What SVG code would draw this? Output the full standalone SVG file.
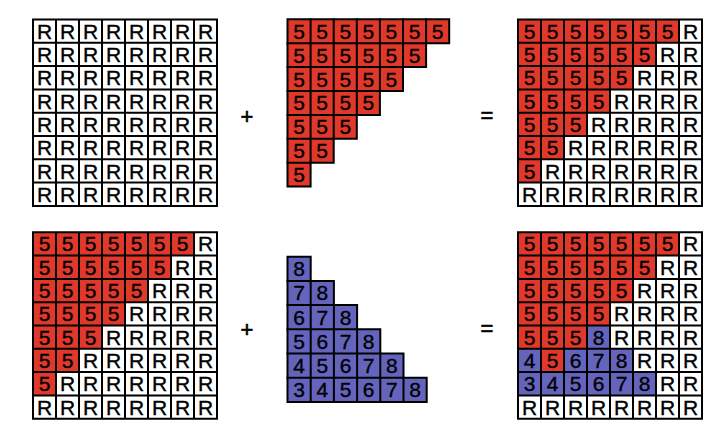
<svg xmlns="http://www.w3.org/2000/svg" xmlns:xlink="http://www.w3.org/1999/xlink" width="728" height="440" viewBox="0 0 728 440">
<style>
  text { font-family: "Liberation Sans", Arial, sans-serif; font-size: 21px; fill: #000; stroke: #000; stroke-width: 0.35; text-anchor: middle; }
  .bg { fill: #fff; }
  .red { fill: #e0382a; }
  .blue { fill: #6464bd; }
  .lines { fill: none; stroke: #000; stroke-width: 2; stroke-linecap: square; }
  .op { font-size: 22px; stroke-width: 0.6; }
</style>
<defs>
  <path id="g8" d="M0 0V186.4M23 0V186.4M46 0V186.4M69 0V186.4M92 0V186.4M115 0V186.4M138 0V186.4M161 0V186.4M184 0V186.4M0 0H184M0 23.3H184M0 46.6H184M0 69.9H184M0 93.2H184M0 116.5H184M0 139.8H184M0 163.1H184M0 186.4H184"/>
  <polygon id="stair" points="0,0 161,0 161,23.3 138,23.3 138,46.6 115,46.6 115,69.9 92,69.9 92,93.2 69,93.2 69,116.5 46,116.5 46,139.8 23,139.8 23,163.1 0,163.1"/>
</defs>

<!-- Top-left: all R -->
<g id="grid-top-left" transform="translate(33,19.5)">
  <rect class="bg" x="0" y="0" width="184" height="186.4"/>
  <use xlink:href="#g8" class="lines"/>
  <text x="11.5 34.5 57.5 80.5 103.5 126.5 149.5 172.5" y="19.2">RRRRRRRR</text>
  <text x="11.5 34.5 57.5 80.5 103.5 126.5 149.5 172.5" y="42.5">RRRRRRRR</text>
  <text x="11.5 34.5 57.5 80.5 103.5 126.5 149.5 172.5" y="65.8">RRRRRRRR</text>
  <text x="11.5 34.5 57.5 80.5 103.5 126.5 149.5 172.5" y="89.1">RRRRRRRR</text>
  <text x="11.5 34.5 57.5 80.5 103.5 126.5 149.5 172.5" y="112.4">RRRRRRRR</text>
  <text x="11.5 34.5 57.5 80.5 103.5 126.5 149.5 172.5" y="135.7">RRRRRRRR</text>
  <text x="11.5 34.5 57.5 80.5 103.5 126.5 149.5 172.5" y="159">RRRRRRRR</text>
  <text x="11.5 34.5 57.5 80.5 103.5 126.5 149.5 172.5" y="182.3">RRRRRRRR</text>
</g>

<text id="plus-top" class="op" x="247" y="123.5">+</text>

<!-- Top-middle: red triangle of 5s -->
<g id="triangle-red" transform="translate(287.5,19.3)">
  <polygon class="red" points="0,0 161.7,0 161.7,23.9 138.6,23.9 138.6,47.8 115.5,47.8 115.5,71.7 92.4,71.7 92.4,95.6 69.3,95.6 69.3,119.5 46.2,119.5 46.2,143.4 23.1,143.4 23.1,167.3 0,167.3"/>
  <polygon class="lines" points="0,0 161.7,0 161.7,23.9 138.6,23.9 138.6,47.8 115.5,47.8 115.5,71.7 92.4,71.7 92.4,95.6 69.3,95.6 69.3,119.5 46.2,119.5 46.2,143.4 23.1,143.4 23.1,167.3 0,167.3"/>
  <path class="lines" d="M0 23.9H138.6M0 47.8H115.5M0 71.7H92.4M0 95.6H69.3M0 119.5H46.2M0 143.4H23.1M23.1 0V143.4M46.2 0V119.5M69.3 0V95.6M92.4 0V71.7M115.5 0V47.8M138.6 0V23.9"/>
  <text x="11.55 34.65 57.75 80.85 103.95 127.05 150.15" y="19.5">5555555</text>
  <text x="11.55 34.65 57.75 80.85 103.95 127.05" y="43.4">555555</text>
  <text x="11.55 34.65 57.75 80.85 103.95" y="67.3">55555</text>
  <text x="11.55 34.65 57.75 80.85" y="91.2">5555</text>
  <text x="11.55 34.65 57.75" y="115.1">555</text>
  <text x="11.55 34.65" y="139">55</text>
  <text x="11.55" y="162.9">5</text>
</g>

<text id="equals-top" class="op" x="487" y="122.5">=</text>

<!-- Top-right: result -->
<g id="grid-top-right" transform="translate(518,19.5)">
  <rect class="bg" x="0" y="0" width="184" height="186.4"/>
  <use xlink:href="#stair" class="red"/>
  <use xlink:href="#g8" class="lines"/>
  <text x="11.5 34.5 57.5 80.5 103.5 126.5 149.5 172.5" y="19.2">5555555R</text>
  <text x="11.5 34.5 57.5 80.5 103.5 126.5 149.5 172.5" y="42.5">555555RR</text>
  <text x="11.5 34.5 57.5 80.5 103.5 126.5 149.5 172.5" y="65.8">55555RRR</text>
  <text x="11.5 34.5 57.5 80.5 103.5 126.5 149.5 172.5" y="89.1">5555RRRR</text>
  <text x="11.5 34.5 57.5 80.5 103.5 126.5 149.5 172.5" y="112.4">555RRRRR</text>
  <text x="11.5 34.5 57.5 80.5 103.5 126.5 149.5 172.5" y="135.7">55RRRRRR</text>
  <text x="11.5 34.5 57.5 80.5 103.5 126.5 149.5 172.5" y="159">5RRRRRRR</text>
  <text x="11.5 34.5 57.5 80.5 103.5 126.5 149.5 172.5" y="182.3">RRRRRRRR</text>
</g>

<!-- Bottom-left -->
<g id="grid-bottom-left" transform="translate(33,232.3)">
  <rect class="bg" x="0" y="0" width="184" height="186.4"/>
  <use xlink:href="#stair" class="red"/>
  <use xlink:href="#g8" class="lines"/>
  <text x="11.5 34.5 57.5 80.5 103.5 126.5 149.5 172.5" y="19.2">5555555R</text>
  <text x="11.5 34.5 57.5 80.5 103.5 126.5 149.5 172.5" y="42.5">555555RR</text>
  <text x="11.5 34.5 57.5 80.5 103.5 126.5 149.5 172.5" y="65.8">55555RRR</text>
  <text x="11.5 34.5 57.5 80.5 103.5 126.5 149.5 172.5" y="89.1">5555RRRR</text>
  <text x="11.5 34.5 57.5 80.5 103.5 126.5 149.5 172.5" y="112.4">555RRRRR</text>
  <text x="11.5 34.5 57.5 80.5 103.5 126.5 149.5 172.5" y="135.7">55RRRRRR</text>
  <text x="11.5 34.5 57.5 80.5 103.5 126.5 149.5 172.5" y="159">5RRRRRRR</text>
  <text x="11.5 34.5 57.5 80.5 103.5 126.5 149.5 172.5" y="182.3">RRRRRRRR</text>
</g>

<text id="plus-bottom" class="op" x="247" y="336.5">+</text>

<!-- Bottom-middle: blue triangle -->
<g id="triangle-blue" transform="translate(287.5,256.7)">
  <polygon class="blue" points="0,0 23.2,0 23.2,24.2 46.4,24.2 46.4,48.4 69.6,48.4 69.6,72.6 92.8,72.6 92.8,96.8 116,96.8 116,121 139.2,121 139.2,145.2 0,145.2"/>
  <polygon class="lines" points="0,0 23.2,0 23.2,24.2 46.4,24.2 46.4,48.4 69.6,48.4 69.6,72.6 92.8,72.6 92.8,96.8 116,96.8 116,121 139.2,121 139.2,145.2 0,145.2"/>
  <path class="lines" d="M0 24.2H23.2M0 48.4H46.4M0 72.6H69.6M0 96.8H92.8M0 121H116M23.2 24.2V145.2M46.4 48.4V145.2M69.6 72.6V145.2M92.8 96.8V145.2M116 121V145.2"/>
  <text x="11.6" y="19.6">8</text>
  <text x="11.6 34.8" y="43.8">78</text>
  <text x="11.6 34.8 58" y="68">678</text>
  <text x="11.6 34.8 58 81.2" y="92.2">5678</text>
  <text x="11.6 34.8 58 81.2 104.4" y="116.4">45678</text>
  <text x="11.6 34.8 58 81.2 104.4 127.6" y="140.6">345678</text>
</g>

<text id="equals-bottom" class="op" x="487" y="335.5">=</text>

<!-- Bottom-right: result -->
<g id="grid-bottom-right" transform="translate(518,232.3)">
  <rect class="bg" x="0" y="0" width="184" height="186.4"/>
  <use xlink:href="#stair" class="red"/>
  <rect class="blue" x="69" y="93.2" width="23" height="23.3"/>
  <rect class="blue" x="0" y="116.5" width="23" height="23.3"/>
  <rect class="blue" x="46" y="116.5" width="69" height="23.3"/>
  <rect class="blue" x="0" y="139.8" width="138" height="23.3"/>
  <use xlink:href="#g8" class="lines"/>
  <text x="11.5 34.5 57.5 80.5 103.5 126.5 149.5 172.5" y="19.2">5555555R</text>
  <text x="11.5 34.5 57.5 80.5 103.5 126.5 149.5 172.5" y="42.5">555555RR</text>
  <text x="11.5 34.5 57.5 80.5 103.5 126.5 149.5 172.5" y="65.8">55555RRR</text>
  <text x="11.5 34.5 57.5 80.5 103.5 126.5 149.5 172.5" y="89.1">5555RRRR</text>
  <text x="11.5 34.5 57.5 80.5 103.5 126.5 149.5 172.5" y="112.4">5558RRRR</text>
  <text x="11.5 34.5 57.5 80.5 103.5 126.5 149.5 172.5" y="135.7">45678RRR</text>
  <text x="11.5 34.5 57.5 80.5 103.5 126.5 149.5 172.5" y="159">345678RR</text>
  <text x="11.5 34.5 57.5 80.5 103.5 126.5 149.5 172.5" y="182.3">RRRRRRRR</text>
</g>
</svg>
